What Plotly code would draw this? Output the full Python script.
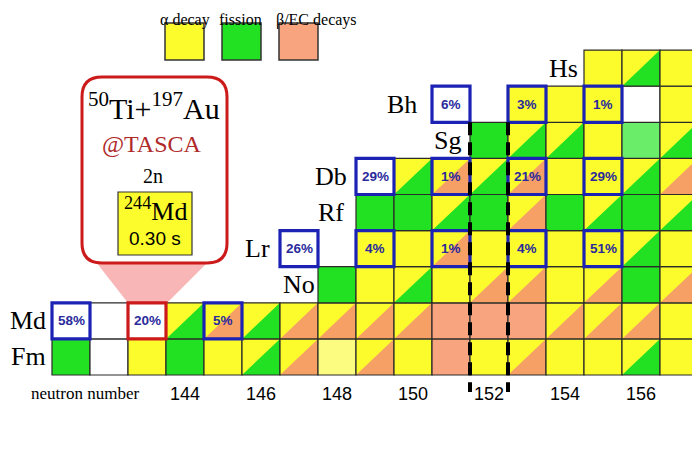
import plotly.graph_objects as go

# ---------------- data ----------------
elements = ["Fm", "Md", "No", "Lr", "Rf", "Db", "Sg", "Bh", "Hs"]
proton_numbers = [100, 101, 102, 103, 104, 105, 106, 107, 108]
first_neutron = [141, 141, 148, 147, 149, 149, 152, 151, 155]

# decay codes: a=alpha, f=fission, b=beta/EC, af/ab = mixed (alpha + other),
# pa = pale alpha, lf = pale fission, w = not measured, "" = no cell
fm_decays = ["f", "w", "a", "f", "a", "af", "ab", "pa", "ab", "a", "b", "a", "ab", "a", "a", "af", "a"]
md_decays = ["w", "w", "w", "af", "ab", "af", "ab", "ab", "ab", "ab", "b", "b", "b", "ab", "ab", "ab", "a"]
no_decays = ["f", "a", "af", "a", "ab", "ab", "a", "ab", "f", "ab"]
lr_decays = ["w", "", "a", "a", "ab", "a", "a", "a", "a", "af", "a"]
rf_decays = ["f", "f", "af", "f", "ab", "f", "af", "f", "af"]
db_decays = ["w", "af", "ab", "af", "ab", "a", "a", "af", "ab"]
sg_decays = ["f", "af", "af", "a", "lf", "af"]
bh_decays = ["w", "", "a", "a", "a", "w", "a"]
hs_decays = ["a", "af", "a"]
decay_rows = [fm_decays, md_decays, no_decays, lr_decays, rf_decays,
              db_decays, sg_decays, bh_decays, hs_decays]

pct_element = ["Md", "Md", "Md", "Lr", "Lr", "Lr", "Lr", "Lr", "Db", "Db", "Db", "Db", "Bh", "Bh", "Bh"]
pct_neutron = [141, 143, 145, 147, 149, 151, 153, 155, 149, 151, 153, 155, 151, 153, 155]
pct_text = ["58%", "20%", "5%", "26%", "4%", "1%", "4%", "51%", "29%", "1%", "21%", "29%", "6%", "3%", "1%"]
highlight = ("Md", 143)

tick_vals = [144, 146, 148, 150, 152, 154, 156]
tick_text = ["144", "146", "148", "150", "152", "154", "156"]
shell_lines = [151.5, 152.5]

legend_labels = ["α decay", "fission", "β/EC decays"]
legend_codes = ["a", "f", "b"]

# ---------------- style ----------------
W, H = 700, 449
OFF = 8  # page offset of the figure inside the browser window
CW, CH = 38.0, 36.1
XMIN = 144 - (185 - OFF) / CW
XMAX = XMIN + W / CW
YMAX = 99.5 + (375 - OFF) / CH
YMIN = YMAX - H / CH

fill = {"a": "#fcfc2c", "f": "#22e022", "b": "#f8a47e", "pa": "#fcfc80",
        "lf": "#6aee6a", "w": "#ffffff"}
second = {"af": "#22e022", "ab": "#f6a066"}
BLUE = "#1c22b4"
RED = "#cc1a1a"
SERIF = "Liberation Serif, Times New Roman, serif"
SANS = "Liberation Sans, Arial, sans-serif"


def X(px):
    return XMIN + (px - OFF) / CW


def Y(py):
    return YMAX - (py - OFF) / CH


shapes = []
annotations = []

# ---------------- callout connector (below cells) ----------------
shapes.append(dict(type="path", xref="x", yref="y", layer="below",
                   path=f"M {X(96)},{Y(262)} L {X(208)},{Y(262)} L {X(167)},{Y(303)} L {X(128)},{Y(303)} Z",
                   fillcolor="#f8b6b6", line=dict(width=0)))

# ---------------- cells ----------------
for z, n0, row in zip(proton_numbers, first_neutron, decay_rows):
    for i, code in enumerate(row):
        if not code:
            continue
        n = n0 + i
        x0, x1, y0, y1 = n - 0.5, n + 0.5, z - 0.5, z + 0.5
        base = fill.get(code, fill["a"])
        shapes.append(dict(type="rect", xref="x", yref="y", x0=x0, x1=x1, y0=y0, y1=y1,
                           fillcolor=base, line=dict(width=0)))
        if code in second:
            shapes.append(dict(type="path", xref="x", yref="y",
                               path=f"M {x0},{y0} L {x1},{y0} L {x1},{y1} Z",
                               fillcolor=second[code], line=dict(width=0)))
        shapes.append(dict(type="rect", xref="x", yref="y", x0=x0, x1=x1, y0=y0, y1=y1,
                           fillcolor="rgba(0,0,0,0)", line=dict(color="#2a2a2a", width=1.2)))

# percentage frames
zmap = dict(zip(elements, proton_numbers))
for el, n, t in zip(pct_element, pct_neutron, pct_text):
    z = zmap[el]
    col = RED if (el, n) == highlight else BLUE
    shapes.append(dict(type="rect", xref="x", yref="y", x0=n - 0.5, x1=n + 0.5,
                       y0=z - 0.5, y1=z + 0.5, fillcolor="rgba(0,0,0,0)",
                       line=dict(color=col, width=3.2)))
    annotations.append(dict(x=n, y=z, xref="x", yref="y", text=f"<b>{t}</b>", showarrow=False,
                            font=dict(family=SANS, size=13.5, color="#2a2a9c")))

# shell closure dashed lines
for xv in shell_lines:
    shapes.append(dict(type="line", xref="x", yref="y", x0=xv, x1=xv, y0=106.5, y1=Y(392),
                       line=dict(color="black", width=4, dash="13px,7px")))

# callout box
x0, x1, y0, y1, r = 82, 227, 77, 263, 20
path = (f"M {X(x0 + r)},{Y(y0)} L {X(x1 - r)},{Y(y0)} Q {X(x1)},{Y(y0)} {X(x1)},{Y(y0 + r)} "
        f"L {X(x1)},{Y(y1 - r)} Q {X(x1)},{Y(y1)} {X(x1 - r)},{Y(y1)} "
        f"L {X(x0 + r)},{Y(y1)} Q {X(x0)},{Y(y1)} {X(x0)},{Y(y1 - r)} "
        f"L {X(x0)},{Y(y0 + r)} Q {X(x0)},{Y(y0)} {X(x0 + r)},{Y(y0)} Z")
shapes.append(dict(type="path", xref="x", yref="y", path=path, fillcolor="white",
                   line=dict(color=RED, width=3)))
shapes.append(dict(type="rect", xref="x", yref="y", x0=X(118), x1=X(192), y0=Y(255), y1=Y(192),
                   fillcolor=fill["a"], line=dict(color="#333333", width=1.2)))

annotations += [
    dict(x=X(154), y=Y(106), text="<sup>50</sup>Ti+<sup>197</sup>Au", font=dict(family=SERIF, size=30, color="black")),
    dict(x=X(152), y=Y(144), text="@TASCA", font=dict(family=SERIF, size=24, color="#b02a2a")),
    dict(x=X(153), y=Y(176), text="2n", font=dict(family=SERIF, size=20, color="black")),
    dict(x=X(155), y=Y(209), text="<sup>244</sup>Md", font=dict(family=SERIF, size=26, color="black")),
    dict(x=X(155), y=Y(238), text="0.30 s", font=dict(family=SANS, size=19, color="black")),
]

# legend
legend_x = [165, 222, 279]
legend_text_x = [185, 240, 316]
for lx, tx, lab, code in zip(legend_x, legend_text_x, legend_labels, legend_codes):
    shapes.append(dict(type="rect", xref="x", yref="y", x0=X(lx), x1=X(lx + 39), y0=Y(60), y1=Y(23),
                       fillcolor=fill[code], line=dict(color="#333333", width=1.5)))
    annotations.append(dict(x=X(tx), y=Y(8.5), yanchor="top", text=lab,
                            font=dict(family=SERIF, size=16, color="black")))

# element labels
label_n = [139.87, 139.87, 147.0, 145.9, 147.85, 147.85, 150.9, 149.7, 153.95]
for el, z, ln in zip(elements, proton_numbers, label_n):
    annotations.append(dict(x=ln, y=z, xref="x", yref="y", text=el,
                            font=dict(family=SERIF, size=26, color="black")))

annotations.append(dict(x=X(85), y=Y(393), text="neutron number",
                        font=dict(family=SERIF, size=17, color="black")))

for a in annotations:
    a.setdefault("xref", "x")
    a.setdefault("yref", "y")
    a.setdefault("showarrow", False)
    a.setdefault("xanchor", "center")
    a.setdefault("yanchor", "middle")

fig = go.Figure()
fig.add_trace(go.Scatter(x=[XMIN], y=[YMIN], mode="markers", marker=dict(opacity=0),
                         hoverinfo="skip", showlegend=False))
fig.update_layout(
    width=W, height=H, margin=dict(l=0, r=0, t=0, b=0),
    paper_bgcolor="white", plot_bgcolor="white", showlegend=False,
    shapes=shapes, annotations=annotations,
    xaxis=dict(range=[XMIN, XMAX], anchor="free", position=1 - (375 - OFF) / H,
               tickvals=tick_vals, ticktext=tick_text, ticks="", showline=False,
               showgrid=False, zeroline=False, ticklabelstandoff=6,
               tickfont=dict(family=SANS, size=18, color="black")),
    yaxis=dict(range=[YMIN, YMAX], visible=False, showgrid=False, zeroline=False),
)
fig.write_html("out.html")
